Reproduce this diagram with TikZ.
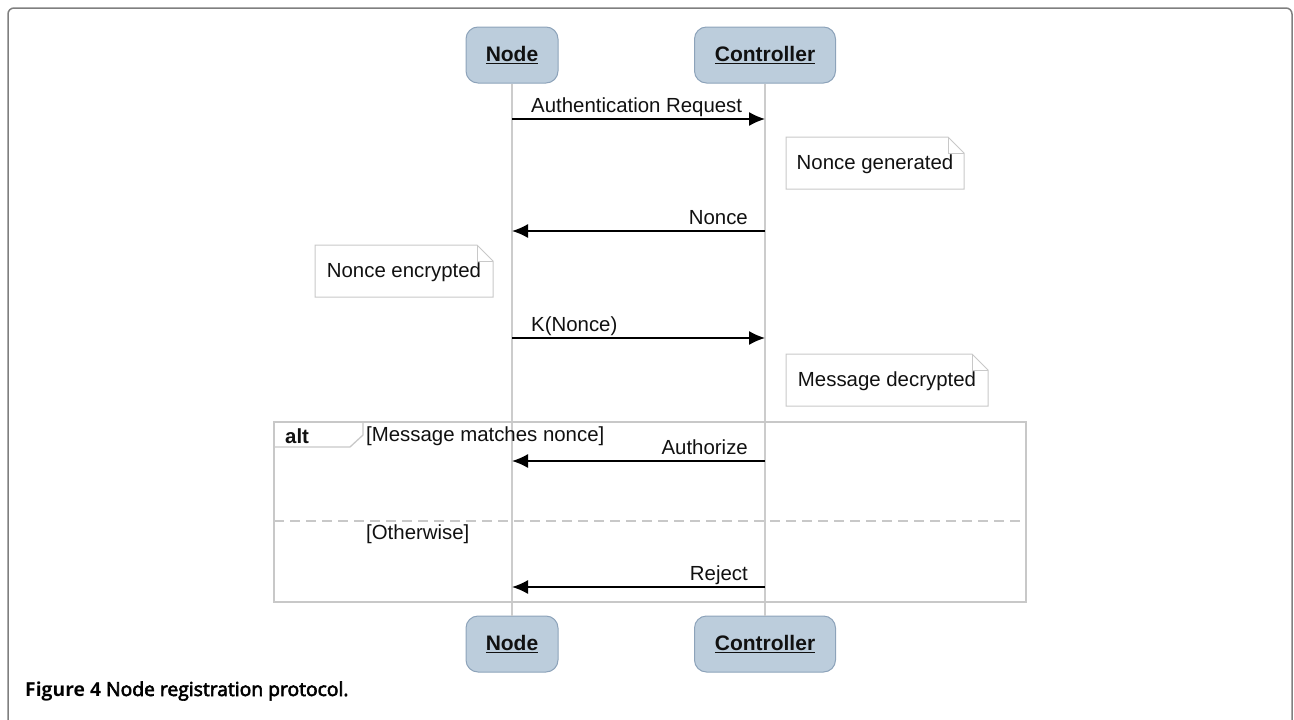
\documentclass[tikz,border=0pt]{standalone}
\usepackage{fontspec}
\setmainfont{Liberation Sans}
\newfontfamily\capfont{Open Sans}
\newfontfamily\capsemi[FakeBold=3]{Open Sans}
\usetikzlibrary{arrows.meta}
\definecolor{actorfill}{HTML}{BCCDDC}
\definecolor{actorline}{HTML}{8DA3BA}
\definecolor{lifec}{HTML}{CCCCCC}
\definecolor{notec}{HTML}{C8C8C8}
\definecolor{framec}{HTML}{7F7F7F}
\definecolor{inkc}{HTML}{111111}

% folded-corner note: #1,#2 top-left, #3,#4 bottom-right, #5 name, #6 text
\newcommand\drawnote[6]{%
  \draw[notebox] (#1,#2) -- ({#3-16},#2) -- (#3,{#2+16}) -- (#3,#4) -- (#1,#4) -- cycle;
  \draw[notebox] ({#3-16},#2) -- ({#3-16},{#2+16}) -- (#3,{#2+16});
  \node[lbl] (#5) at ({(#1+#3)/2},{(#2+#4)/2+1}) {#6};
}

\begin{document}
\begin{tikzpicture}[x=1pt,y=-1pt,
  actor/.style={draw=actorline, fill=actorfill, rounded corners=12pt, line width=1pt,
    minimum height=56pt, inner sep=0pt, text=inkc,
    font=\bfseries\fontsize{21}{25}\selectfont},
  lifeline/.style={draw=lifec, line width=1.2pt},
  msg/.style={draw=black, line width=1.5pt, -{Latex[length=16pt,width=14pt]}},
  lbl/.style={inner sep=0pt, text=inkc, font=\fontsize{20.4}{24}\selectfont},
  notebox/.style={draw=notec, line width=1pt},
  fragment/.style={draw=notec, line width=1.3pt}
]
\useasboundingbox (0,0) rectangle (1294,720);

% outer panel frame
\draw[framec, line width=1.5pt, rounded corners=6pt] (8,740) -- (8,8) -- (1292,8) -- (1292,740);

% participants
\node[actor, minimum width=92pt]  (nodeT) at (512,55)  {\underline{Node}};
\node[actor, minimum width=141pt] (ctrlT) at (765,55)  {\underline{Controller}};
\node[actor, minimum width=92pt]  (nodeB) at (512,644) {\underline{Node}};
\node[actor, minimum width=141pt] (ctrlB) at (765,644) {\underline{Controller}};

% lifelines
\draw[lifeline] (nodeT.south) -- (nodeB.north);
\draw[lifeline] (ctrlT.south) -- (ctrlB.north);

% alt combined fragment
\draw[fragment] (274,422) rectangle (1026,602);
\draw[fragment] (274,447) -- (350,447) -- (363,435) -- (363,422);
\draw[fragment, dashed, dash pattern=on 10pt off 6pt] (274,521) -- (1026,521);
\node[lbl, anchor=west, font=\bfseries\fontsize{20.4}{24}\selectfont] (alt) at (285,436) {alt};
\node[lbl, anchor=west] (guard1) at (366,436) {[Message matches nonce]};
\node[lbl, anchor=west] (guard2) at (366,534) {[Otherwise]};

% lifeline anchor points for messages
\coordinate (n1) at (512,119); \coordinate (c1) at (765,119);
\coordinate (n2) at (512,231); \coordinate (c2) at (765,231);
\coordinate (n3) at (512,338); \coordinate (c3) at (765,338);
\coordinate (n4) at (512,461); \coordinate (c4) at (765,461);
\coordinate (n5) at (512,587); \coordinate (c5) at (765,587);

% messages (labels sit on a baseline 7pt above the arrow)
\draw[msg] (n1) -- (c1);
\node[lbl, anchor=base west] (m1) at (531,112) {Authentication Request};
\draw[msg] (c2) -- (n2);
\node[lbl, anchor=base east] (m2) at (748,224) {Nonce};
\draw[msg] (n3) -- (c3);
\node[lbl, anchor=base west] (m3) at (531,331) {K(Nonce)};
\draw[msg] (c4) -- (n4);
\node[lbl, anchor=base east] (m4) at (748,454) {Authorize};
\draw[msg] (c5) -- (n5);
\node[lbl, anchor=base east] (m5) at (748,580) {Reject};

% notes
\drawnote{786}{137}{964}{189}{note1}{Nonce generated}
\drawnote{315}{245}{493}{297}{note2}{Nonce encrypted}
\drawnote{786}{354}{988}{406}{note3}{Message decrypted}

% caption
\node[anchor=west, inner sep=0pt, text=black, font=\fontsize{19.3}{23}\selectfont] (caption) at (25,691)
  {\capfont\bfseries Figure 4 {\capsemi\mdseries Node registration protocol.}};
\end{tikzpicture}
\end{document}
